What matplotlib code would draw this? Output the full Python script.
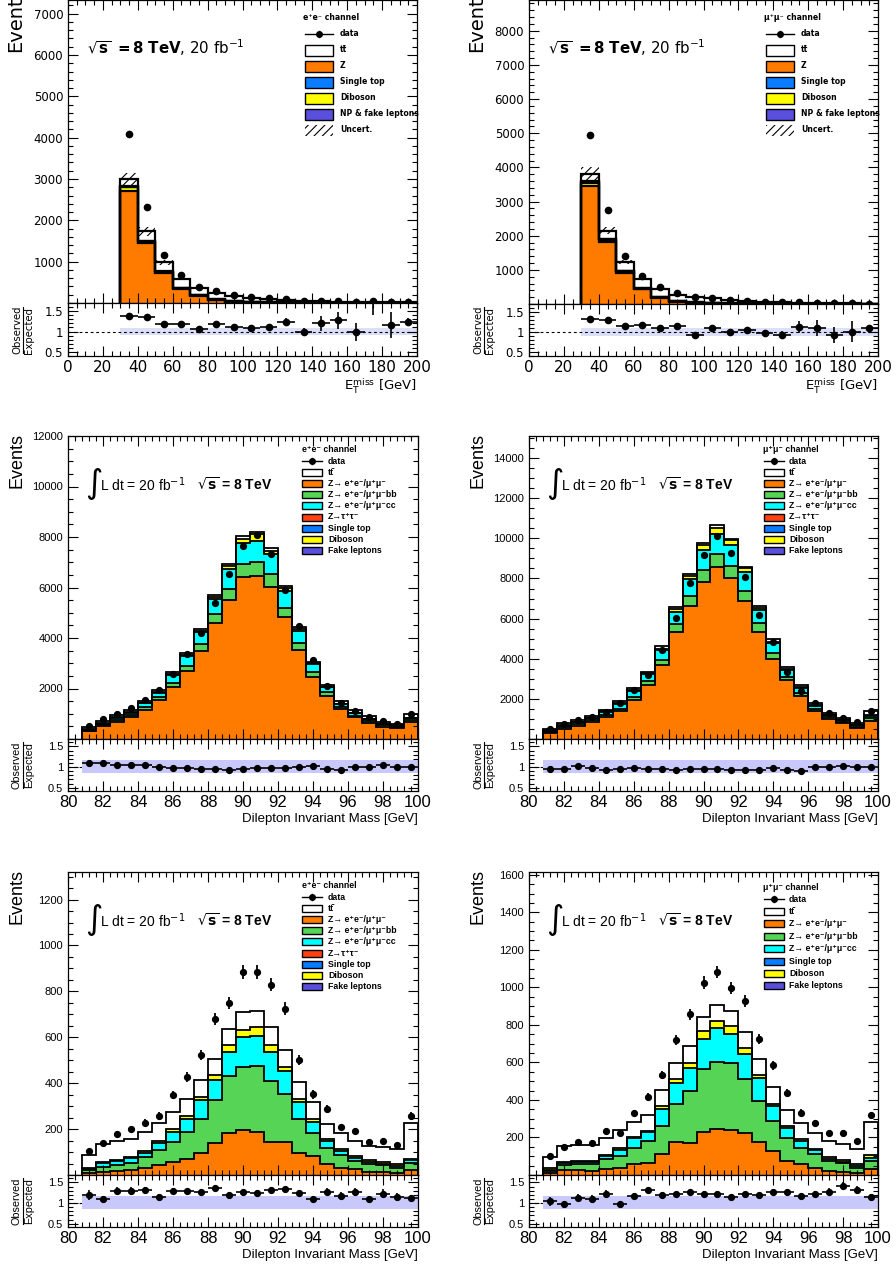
import numpy as np
import matplotlib
matplotlib.use("Agg")
import matplotlib.pyplot as plt
from matplotlib.patches import Rectangle
from matplotlib.lines import Line2D
from matplotlib.ticker import MultipleLocator, FuncFormatter

plt.rcParams['font.family'] = ['DejaVu Sans']
plt.rcParams['hatch.linewidth'] = 0.8

# ---------------------------------------------------------------- data
met_edges = [30, 40, 50, 60, 70, 80, 90, 100, 110, 120, 130, 140, 150, 160, 170, 180, 190, 200]

ee_met_z = [2720, 1440, 716, 338, 177, 72, 30, 15, 8, 5, 3, 2, 2, 1, 1, 1, 1]
ee_met_dib = [75, 45, 28, 18, 12, 9, 7, 6, 5, 4, 3, 3, 2, 2, 2, 1, 2]
ee_met_st = [20, 16, 14, 12, 10, 9, 8, 7, 6, 5, 4, 3, 3, 2, 2, 2, 2]
ee_met_np = [10, 8, 6, 5, 4, 3, 2, 2, 2, 1, 1, 1, 1, 1, 1, 1, 1]
ee_met_tt = [165, 221, 221, 202, 162, 147, 123, 100, 79, 63, 47, 36, 27, 24, 16, 15, 19]
ee_met_unc = [165, 110, 55, 30, 20, 12, 9, 7, 5, 4, 3, 3, 2, 2, 2, 1, 2]
ee_met_data = [4080, 2330, 1160, 680, 390, 285, 195, 142, 110, 95, 57, 54, 45, 30, 40, 23, 31]
ee_met_ratio = [1.37, 1.35, 1.185, 1.19, 1.07, 1.19, 1.12, 1.09, 1.10, 1.23, 0.98, 1.2, 1.28, 0.99, 1.85, 1.15, 1.23]
ee_met_ratio_err = [0.02, 0.02, 0.025, 0.03, 0.03, 0.035, 0.04, 0.045, 0.05, 0.1, 0.1, 0.18, 0.21, 0.21, 0.45, 0.32, 0.09]
ee_met_band = [0.085] * 17

mm_met_z = [3440, 1826, 918, 430, 186, 68, 30, 15, 8, 5, 3, 2, 2, 1, 1, 1, 1]
mm_met_dib = [110, 60, 35, 22, 14, 10, 8, 7, 6, 5, 4, 3, 2, 2, 2, 1, 1]
mm_met_st = [25, 20, 17, 14, 12, 10, 9, 8, 7, 6, 5, 4, 3, 3, 2, 2, 2]
mm_met_np = [15, 10, 7, 5, 4, 3, 2, 2, 2, 1, 1, 1, 1, 1, 1, 1, 1]
mm_met_tt = [218, 232, 263, 252, 234, 182, 166, 134, 102, 78, 57, 45, 32, 23, 16, 12, 8]
mm_met_unc = [200, 110, 55, 35, 22, 14, 10, 8, 6, 5, 4, 3, 2, 2, 2, 1, 1]
mm_met_data = [4950, 2750, 1400, 830, 490, 311, 200, 181, 125, 100, 69, 51, 45, 33, 20, 17, 14]
mm_met_ratio = [1.32, 1.29, 1.15, 1.175, 1.09, 1.14, 0.925, 1.09, 1.0, 1.05, 0.98, 0.925, 1.13, 1.11, 0.92, 1.01, 1.09]
mm_met_ratio_err = [0.02, 0.02, 0.025, 0.03, 0.03, 0.03, 0.035, 0.04, 0.05, 0.06, 0.08, 0.1, 0.15, 0.2, 0.2, 0.27, 0.05]
mm_met_band = [0.09] * 17

mass_edges = [80.8, 81.6, 82.4, 83.2, 84.0, 84.8, 85.6, 86.4, 87.2, 88.0, 88.8, 89.6, 90.4,
              91.2, 92.0, 92.8, 93.6, 94.4, 95.2, 96.0, 96.8, 97.6, 98.4, 99.2, 100.0]

ee_mass_zll = [300, 500, 690, 860, 1160, 1540, 2070, 2690, 3470, 4575, 5500, 6430, 6460, 6030, 4830, 3520, 2440, 1710, 1185, 855, 645, 480, 420, 685]
ee_mass_zbb = [35, 50, 65, 80, 90, 105, 145, 195, 290, 370, 460, 520, 550, 490, 375, 265, 195, 135, 95, 65, 80, 60, 60, 65]
ee_mass_zcc = [40, 60, 80, 105, 160, 175, 315, 410, 470, 590, 790, 800, 840, 790, 660, 500, 330, 200, 105, 105, 65, 50, 45, 65]
ee_mass_dib = [10, 15, 20, 20, 25, 30, 40, 50, 60, 100, 120, 190, 270, 140, 130, 60, 40, 30, 20, 15, 15, 10, 10, 15]
ee_mass_tt = [85, 85, 95, 100, 75, 85, 65, 70, 80, 75, 80, 110, 80, 110, 65, 75, 55, 70, 105, 115, 90, 80, 55, 150]
ee_mass_data = [512, 780, 988, 1210, 1555, 1950, 2570, 3360, 4200, 5400, 6520, 7660, 8060, 7330, 5920, 4460, 3130, 2090, 1420, 1120, 885, 705, 595, 990]
ee_mass_ratio = [1.09, 1.10, 1.04, 1.04, 1.04, 1.0, 0.975, 0.985, 0.96, 0.945, 0.935, 0.95, 0.985, 0.97, 0.975, 1.01, 1.025, 0.96, 0.93, 0.99, 0.99, 1.05, 1.01, 1.01]

mm_mass_zll = [290, 500, 664, 830, 1100, 1395, 1960, 2690, 3690, 5345, 6620, 7835, 8560, 8000, 6870, 5345, 3980, 2940, 2140, 1395, 996, 780, 531, 913]
mm_mass_zbb = [60, 80, 90, 100, 110, 110, 150, 200, 240, 385, 500, 585, 640, 620, 520, 415, 290, 160, 140, 95, 80, 70, 80, 110]
mm_mass_zcc = [60, 90, 90, 110, 140, 230, 290, 350, 500, 610, 830, 990, 1040, 1040, 910, 660, 490, 340, 240, 150, 100, 80, 70, 120]
mm_mass_dib = [15, 20, 20, 25, 30, 35, 45, 55, 80, 120, 190, 250, 300, 250, 200, 130, 90, 60, 50, 30, 25, 20, 20, 30]
mm_mass_tt = [85, 100, 70, 75, 85, 100, 75, 65, 110, 110, 80, 100, 110, 80, 80, 90, 110, 100, 110, 110, 90, 85, 120, 222]
mm_mass_data = [482, 747, 946, 1110, 1360, 1790, 2460, 3190, 4430, 6040, 7770, 9180, 10100, 9270, 8050, 6190, 4810, 3350, 2400, 1780, 1300, 1050, 830, 1395]
mm_mass_ratio = [0.945, 0.945, 1.015, 0.975, 0.93, 0.96, 0.975, 0.95, 0.96, 0.92, 0.945, 0.945, 0.95, 0.93, 0.935, 0.935, 0.97, 0.93, 0.895, 1.0, 1.0, 1.015, 1.01, 1.0]

ee_tag_zll = [10, 14, 17, 22, 32, 43, 57, 71, 97, 138, 184, 194, 187, 145, 143, 94, 83, 46, 32, 25, 14, 14, 10, 22]
ee_tag_zbb = [12, 22, 26, 32, 48, 66, 88, 116, 148, 188, 246, 276, 287, 264, 212, 151, 101, 70, 55, 36, 35, 29, 20, 29]
ee_tag_zcc = [6, 18, 18, 20, 17, 32, 42, 58, 81, 87, 105, 131, 133, 127, 97, 72, 48, 32, 17, 11, 8, 6, 9, 13]
ee_tag_dib = [4, 4, 4, 6, 7, 7, 12, 12, 15, 23, 30, 32, 36, 32, 19, 15, 10, 7, 10, 11, 7, 8, 7, 7]
ee_tag_tt = [54, 75, 83, 79, 84, 77, 76, 72, 71, 70, 73, 76, 70, 75, 75, 72, 75, 68, 70, 65, 62, 65, 66, 157]
ee_tag_data = [104, 138, 180, 201, 228, 257, 348, 428, 522, 681, 749, 883, 883, 829, 725, 500, 351, 286, 209, 191, 143, 148, 129, 257]
ee_tag_ratio = [1.20, 1.09, 1.30, 1.29, 1.31, 1.15, 1.29, 1.29, 1.28, 1.375, 1.19, 1.27, 1.25, 1.31, 1.35, 1.25, 1.11, 1.28, 1.175, 1.275, 1.09, 1.23, 1.15, 1.13]

mm_tag_zll = [12, 25, 27, 23, 30, 39, 60, 66, 110, 176, 172, 229, 244, 240, 222, 178, 128, 75, 57, 39, 21, 18, 12, 30]
mm_tag_zbb = [9, 28, 30, 37, 54, 62, 86, 115, 151, 201, 276, 338, 359, 356, 288, 217, 160, 121, 85, 75, 54, 48, 27, 45]
mm_tag_zcc = [6, 13, 12, 11, 17, 32, 50, 48, 89, 112, 124, 160, 179, 154, 134, 121, 80, 56, 39, 19, 12, 5, 9, 17]
mm_tag_dib = [9, 5, 6, 5, 6, 11, 7, 7, 16, 25, 27, 39, 39, 45, 35, 16, 9, 9, 9, 7, 9, 7, 11, 13]
mm_tag_tt = [62, 84, 85, 84, 92, 94, 81, 86, 86, 82, 89, 78, 86, 80, 85, 85, 94, 84, 89, 86, 85, 86, 81, 178]
mm_tag_data = [101, 149, 178, 171, 235, 226, 329, 418, 533, 720, 857, 1026, 1083, 999, 928, 724, 585, 439, 332, 279, 222, 226, 181, 318]
mm_tag_ratio = [1.04, 0.97, 1.13, 1.11, 1.23, 0.97, 1.175, 1.325, 1.19, 1.21, 1.275, 1.23, 1.21, 1.15, 1.23, 1.19, 1.27, 1.275, 1.175, 1.23, 1.27, 1.425, 1.325, 1.15]

mass_band_lo = 0.855
mass_band_hi = 1.165

# ---------------------------------------------------------------- style
C_Z = '#ff7b00'
C_TT = '#ffffff'
C_ST = '#0a7cff'
C_DIB = '#ffff00'
C_NP = '#5a4fdc'
C_BB = '#55d455'
C_CC = '#00ffff'
C_TAU = '#ff4010'
BAND_MET = '#dcdff8'
BAND_MASS = '#c8c8fa'
HEL = ['Liberation Sans', 'DejaVu Sans']
DJV = ['DejaVu Sans']

W, H = 896, 1267
fig = plt.figure(figsize=(W / 100, H / 100), dpi=100)


def add_ax(x0, y0, x1, y1):
    return fig.add_axes([x0 / W, 1 - y1 / H, (x1 - x0) / W, (y1 - y0) / H])


def ftxt(x, y, s, **kw):
    return fig.text(x / W, 1 - y / H, s, **kw)


def int_fmt(v, p):
    return '' if abs(v) < 1e-9 else f'{int(round(v))}'


def style(ax, fam, size):
    ax.tick_params(which='both', direction='in', top=True, right=True, width=0.8, labelsize=size)
    ax.tick_params(which='major', length=7)
    ax.tick_params(which='minor', length=3.5)
    for s in ax.spines.values():
        s.set_linewidth(0.9)
    plt.setp(ax.get_xticklabels(), family=fam)
    plt.setp(ax.get_yticklabels(), family=fam)


def draw_stack(ax, edges, comps, colors, lw=1.3):
    bottom = np.zeros(len(edges) - 1)
    tops = []
    for vals, col in zip(comps, colors):
        top = bottom + np.asarray(vals, float)
        ax.stairs(top, edges, baseline=bottom, fill=True, facecolor=col, edgecolor='none', lw=0)
        tops.append(top)
        bottom = top
    for top in tops:
        ax.stairs(top, edges, baseline=0, color='black', lw=lw)
    return bottom


def legend(entries, hx, hy, bx0, bx1, lx, y0, dy, bh, fs, fam, header):
    ftxt(hx, hy, header, fontsize=fs, fontweight='bold', family=fam, va='center', ha='left')
    for i, (kind, label, col) in enumerate(entries):
        y = y0 + dy * i
        fy = 1 - y / H
        if kind == 'data':
            fig.add_artist(Line2D([bx0 / W, bx1 / W], [fy, fy], color='black', lw=1.0,
                                  transform=fig.transFigure))
            xm = (bx0 + bx1) / 2 / W
            fig.add_artist(Line2D([xm, xm], [1 - (y - 3) / H, 1 - (y + 3) / H], color='black', lw=1.0,
                                  transform=fig.transFigure))
            fig.add_artist(Line2D([xm], [fy], marker='o', ms=4, color='black', lw=0,
                                  transform=fig.transFigure))
        elif kind == 'hatch':
            fig.add_artist(Rectangle((bx0 / W, 1 - (y + bh / 2) / H), (bx1 - bx0) / W, bh / H,
                                     facecolor='none', edgecolor='black', hatch='////', lw=0,
                                     transform=fig.transFigure))
        else:
            fig.add_artist(Rectangle((bx0 / W, 1 - (y + bh / 2) / H), (bx1 - bx0) / W, bh / H,
                                     facecolor=col, edgecolor='black', lw=1.0,
                                     transform=fig.transFigure))
        ftxt(lx, y, label, fontsize=fs, fontweight='bold', family=fam, va='center', ha='left')


def ratio_label(xc, yc, fam, fs):
    ftxt(xc - 6, yc, 'Observed', rotation=90, ha='center', va='center', fontsize=fs, family=fam)
    ftxt(xc + 6, yc, 'Expected', rotation=90, ha='center', va='center', fontsize=fs, family=fam)
    fig.add_artist(Line2D([xc / W, xc / W], [1 - (yc - 23) / H, 1 - (yc + 23) / H], color='black',
                          lw=0.8, transform=fig.transFigure))


# ---------------------------------------------------------------- MET panels
def met_panel(x0, x1, ybot, ysplit, ymax, comps, unc, data, ratio, rerr, band):
    ax = add_ax(x0, 0, x1, ysplit)
    rx = add_ax(x0, ysplit, x1, ybot)
    edges = np.array(met_edges, float)
    cent = 0.5 * (edges[1:] + edges[:-1])
    total = draw_stack(ax, edges, comps, [C_Z, C_DIB, C_ST, C_NP, C_TT], lw=1.6)
    unc = np.asarray(unc, float)
    ax.stairs(total + unc, edges, baseline=total - unc, fill=True, facecolor='none',
              edgecolor='black', hatch='////', lw=0)
    d = np.asarray(data, float)
    ax.errorbar(cent, d, yerr=np.sqrt(d), fmt='o', color='black', ms=4.5, elinewidth=1.0, capsize=0, zorder=5)
    ax.set_xlim(0, 200)
    ax.set_ylim(0, ymax)
    ax.xaxis.set_major_locator(MultipleLocator(20))
    ax.xaxis.set_minor_locator(MultipleLocator(5))
    ax.yaxis.set_major_locator(MultipleLocator(1000))
    ax.yaxis.set_minor_locator(MultipleLocator(200))
    ax.yaxis.set_major_formatter(FuncFormatter(int_fmt))
    ax.tick_params(labelbottom=False)
    style(ax, DJV, 8.5)

    b = np.asarray(band, float)
    rx.stairs(1 + b, edges, baseline=1 - b, fill=True, facecolor=BAND_MET, edgecolor='none', lw=0)
    rx.axhline(1, color='black', ls=(0, (2.5, 2.5)), lw=0.8)
    rx.errorbar(cent, ratio, xerr=5, yerr=rerr, fmt='o', color='black', ms=4.5, elinewidth=1.2, capsize=0, zorder=5)
    rx.set_xlim(0, 200)
    rx.set_ylim(0.4, 1.7)
    rx.xaxis.set_major_locator(MultipleLocator(20))
    rx.xaxis.set_minor_locator(MultipleLocator(5))
    rx.set_yticks([0.5, 1, 1.5])
    rx.set_yticklabels(['0.5', '1', '1.5'])
    rx.yaxis.set_minor_locator(MultipleLocator(0.1))
    style(rx, DJV, 8.5)
    rx.tick_params(axis='x', labelsize=11, pad=3)
    ftxt(x1, 386, r'E$_{\mathrm{T}}^{\mathrm{miss}}$ [GeV]', ha='right', va='center', fontsize=9.5, family=DJV)
    ftxt(x0 - 52, 52, 'Events', rotation=90, ha='center', va='bottom', fontsize=14, family=DJV)
    ratio_label(x0 - 45, 330, DJV, 7.3)
    ftxt(x0 + 19, 48, r'$\sqrt{\mathbf{s}}\ \mathbf{=8\ TeV}$, 20 fb$^{-1}$', fontsize=10.8, va='center', family=DJV)
    return ax, rx


met_panel(68, 417, 356, 303, 7330,
          [ee_met_z, ee_met_dib, ee_met_st, ee_met_np, ee_met_tt], ee_met_unc, ee_met_data,
          ee_met_ratio, ee_met_ratio_err, ee_met_band)
met_panel(529, 878, 356, 304, 8900,
          [mm_met_z, mm_met_dib, mm_met_st, mm_met_np, mm_met_tt], mm_met_unc, mm_met_data,
          mm_met_ratio, mm_met_ratio_err, mm_met_band)

EE_CH = 'e\u207ae\u207b channel'
MM_CH = '\u03bc\u207a\u03bc\u207b channel'
met_entries = [('data', 'data', None), ('box', 'tt\u0304', C_TT), ('box', 'Z', C_Z),
               ('box', 'Single top', C_ST), ('box', 'Diboson', C_DIB),
               ('box', 'NP & fake leptons', C_NP), ('hatch', 'Uncert.', None)]
legend(met_entries, 303, 18, 305, 333, 340, 34, 16, 11, 5.6, DJV, EE_CH)
legend(met_entries, 764, 18, 766, 794, 801, 34, 16, 11, 5.6, DJV, MM_CH)


# ---------------------------------------------------------------- mass panels
def mass_panel(x0, x1, ytop, ymax, ymaj, ymin, comps, data, ratio):
    ysplit = ytop + 303
    ybot = ysplit + 52
    ax = add_ax(x0, ytop, x1, ysplit)
    rx = add_ax(x0, ysplit, x1, ybot)
    edges = np.array(mass_edges, float)
    cent = 0.5 * (edges[1:] + edges[:-1])
    draw_stack(ax, edges, comps, [C_Z, C_BB, C_CC, C_DIB, C_TT], lw=1.3)
    d = np.asarray(data, float)
    ax.errorbar(cent, d, yerr=np.sqrt(d), fmt='o', color='black', ms=4.2, elinewidth=1.3, capsize=0, zorder=5)
    ax.set_xlim(80, 100)
    ax.set_ylim(0, ymax)
    ax.xaxis.set_major_locator(MultipleLocator(2))
    ax.xaxis.set_minor_locator(MultipleLocator(0.4))
    ax.yaxis.set_major_locator(MultipleLocator(ymaj))
    ax.yaxis.set_minor_locator(MultipleLocator(ymin))
    ax.yaxis.set_major_formatter(FuncFormatter(int_fmt))
    ax.tick_params(labelbottom=False)
    style(ax, HEL, 8)

    rx.axhline(1, color='black', ls=(0, (2.5, 2.5)), lw=0.8, zorder=1)
    rx.fill_between([edges[0], edges[-1]], mass_band_lo, mass_band_hi, facecolor=BAND_MASS,
                    edgecolor='none', zorder=2)
    r = np.asarray(ratio, float)
    rx.errorbar(cent, r, xerr=0.4, yerr=r / np.sqrt(d), fmt='o', color='black', ms=4.2,
                elinewidth=1.2, capsize=0, zorder=5)
    rx.set_xlim(80, 100)
    rx.set_ylim(0.42, 1.68)
    rx.xaxis.set_major_locator(MultipleLocator(2))
    rx.xaxis.set_minor_locator(MultipleLocator(0.4))
    rx.set_yticks([0.5, 1, 1.5])
    rx.set_yticklabels(['0.5', '1', '1.5'])
    rx.yaxis.set_minor_locator(MultipleLocator(0.1))
    style(rx, HEL, 8)
    rx.tick_params(axis='x', labelsize=12, pad=3)
    ftxt(x1, ybot + 28, 'Dilepton Invariant Mass [GeV]', ha='right', va='center', fontsize=9.5, family=HEL)
    ftxt(x0 - 51, ytop + 52, 'Events', rotation=90, ha='center', va='bottom', fontsize=13, family=HEL)
    ratio_label(x0 - 45, ysplit + 26, HEL, 7.8)
    ftxt(x0 + 17, ytop + 48, '\u222b', fontsize=24, va='center', ha='left', family=DJV)
    ftxt(x0 + 32, ytop + 49, r'L dt = 20 fb$^{-1}$', fontsize=10, va='center', ha='left', family=HEL)
    ftxt(x0 + 129, ytop + 49, r'$\sqrt{\mathbf{s}}$ = 8 TeV', fontsize=10, va='center', ha='left',
         fontweight='bold', family=HEL)
    return ax, rx


mass_panel(68, 418, 436, 12000, 2000, 500,
           [ee_mass_zll, ee_mass_zbb, ee_mass_zcc, ee_mass_dib, ee_mass_tt], ee_mass_data, ee_mass_ratio)
mass_panel(529, 878, 436, 15100, 2000, 500,
           [mm_mass_zll, mm_mass_zbb, mm_mass_zcc, mm_mass_dib, mm_mass_tt], mm_mass_data, mm_mass_ratio)
mass_panel(68, 418, 872, 1320, 200, 50,
           [ee_tag_zll, ee_tag_zbb, ee_tag_zcc, ee_tag_dib, ee_tag_tt], ee_tag_data, ee_tag_ratio)
mass_panel(529, 878, 872, 1615, 200, 50,
           [mm_tag_zll, mm_tag_zbb, mm_tag_zcc, mm_tag_dib, mm_tag_tt], mm_tag_data, mm_tag_ratio)

zll = 'Z\u2192 e\u207ae\u207b/\u03bc\u207a\u03bc\u207b'
full_entries = [('data', 'data', None), ('box', 'tt\u0304', C_TT), ('box', zll, C_Z),
                ('box', zll + 'bb', C_BB), ('box', zll + 'cc', C_CC),
                ('box', 'Z\u2192\u03c4\u207a\u03c4\u207b', C_TAU), ('box', 'Single top', C_ST),
                ('box', 'Diboson', C_DIB), ('box', 'Fake leptons', C_NP)]
short_entries = [e for e in full_entries if '\u03c4' not in e[1]]

legend(full_entries, 302, 450, 302, 322, 328, 461, 11.2, 7, 6.3, HEL, EE_CH)
legend(full_entries, 763, 450, 764, 784, 789, 461, 11.2, 7, 6.3, HEL, MM_CH)
legend(full_entries, 302, 886, 302, 322, 328, 897, 11.2, 7, 6.3, HEL, EE_CH)
legend(short_entries, 763, 887, 764, 784, 789, 899, 12.4, 7, 6.3, HEL, MM_CH)

fig.savefig('out.png', dpi=100)
